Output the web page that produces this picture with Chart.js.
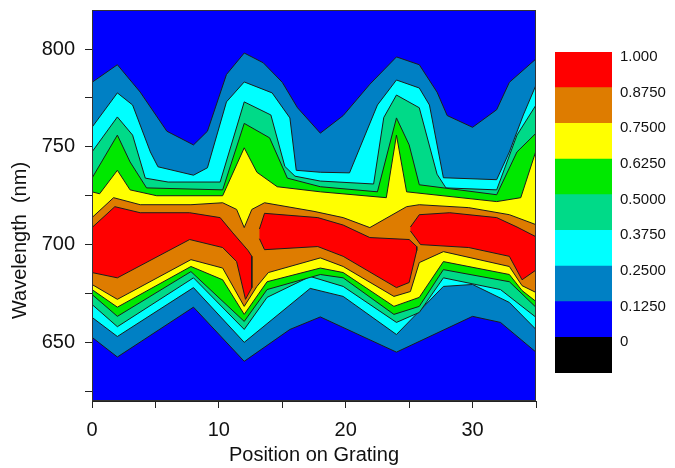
<!DOCTYPE html>
<html>
<head>
<meta charset="utf-8">
<script src="https://cdn.jsdelivr.net/npm/chart.js@4.4.1/dist/chart.umd.min.js"></script>
<style>
  html, body { margin: 0; padding: 0; background: #fff; }
  #wrap { position: relative; width: 675px; height: 468px; }
  #main { position: absolute; left: 0; top: 0; }
  #bar { position: absolute; left: 545px; top: 0; }
</style>
</head>
<body>
<div id="wrap">
  <canvas id="main" width="675" height="468"></canvas>
  <canvas id="bar" width="130" height="468"></canvas>
</div>
<script>
const xTicks = [0, 5, 10, 15, 20, 25, 30, 35];
const yTicks = [625, 650, 675, 700, 725, 750, 775, 800];
const xTitle = 'Position on Grating';
const yTitle = 'Wavelength  (nm)';

const levelLabels = ['0', '0.1250', '0.2500', '0.3750', '0.5000', '0.6250', '0.7500', '0.8750', '1.000'];
const levelColors = ['#000000', '#0000ff', '#0080c4', '#00ffff', '#00da88', '#00e800', '#ffff00', '#de7c00', '#ff0000'];

// contour boundaries, [position, wavelength]; top edge and bottom edge of each level
// level >= 0.125
const sbTop = [[0,783],[2,792],[3.8,778],[5.9,758],[8,751],[9.1,758],[10.6,787],[12,798],[13.5,793],[15,783],[16.2,770],[18,757],[19.8,766],[21.9,782],[24,796],[25.8,792],[27.2,778],[28,766],[30,760],[31.9,769],[32.9,783],[35,795]];
const sbBottom = [[0,652.6],[2,642.5],[8,668],[12,640.3],[15.6,656.6],[18,663],[24,645],[30,663.3],[32.2,660.2],[35,645]];
// level >= 0.25
const cyTop = [[0,760],[2,777.6],[3.2,771.4],[4.6,747.4],[5.2,739.8],[8,735.5],[9.1,739.3],[10.6,773],[12,783.2],[14.2,777.6],[15.6,764.8],[16.1,738],[18,737],[20.3,736.7],[22.5,771.4],[24,784.2],[25.8,780.1],[26.6,771.4],[27.7,734.2],[31.9,733.2],[32.9,747.4],[34,766.3],[35,781.6]];
const cyBottom = [[0,662.8],[2,653],[8,678],[12,650],[17.2,677.6],[19.8,673.5],[24,654],[27.7,678.6],[30,679.6],[32.9,670.4],[35,656.6]];
// level >= 0.375
const mgTop = [[0,747.4],[2,765.3],[3.2,756],[4.2,734],[6,732],[10.1,732],[12,773],[14.1,766.3],[15.2,740],[16,735],[18,732.5],[22.2,731],[23,765],[24,776.5],[25.8,770],[27.2,736],[27.9,729],[31.9,728],[33.5,756],[35,771.4]];
const mgBottom = [[0,669.4],[2,658],[8,683],[12,656.6],[13.8,673],[17.2,683.7],[19.8,678.6],[24,660.2],[25.8,665.3],[27.7,683],[32.2,677],[35,662.8]];
// level >= 0.5
const grTop = [[0,734],[2,756],[3,742.3],[4.3,729],[10.3,728],[12,762],[14,754.6],[15.4,734],[18,729.6],[22.5,727],[24,764.8],[25,751],[25.8,730.6],[31.9,725.5],[33.5,747.4],[35,757]];
const grBottom = [[0,674.5],[2,663.3],[7.8,686.2],[12,660.7],[13.8,677],[18,684.7],[19.8,683],[23.8,664.3],[25.8,668.4],[27.7,687.2],[32.9,681],[35,667.9]];
// level >= 0.625
const yeTop = [[0,727],[0.6,726],[2,738],[3,728],[5.1,725],[10.3,725],[12,749.5],[13,737],[14.6,729.6],[18,727],[23.2,724],[24,756],[24.8,727],[31.9,722],[33.8,724],[35,748]];
const yeBottom = [[0,677],[2,668],[7.8,688.8],[10.3,682],[12,664.3],[13.8,681],[18,688],[19.8,685.7],[23.8,668.4],[25.8,673],[27.7,691.3],[32.9,684.7],[33.9,676.5],[35,670.9]];
// level >= 0.75
const orTop = [[0,713.8],[1.7,724],[3.8,720.4],[7.8,720.4],[10.3,721.4],[11.4,718],[12,708.7],[12.6,718],[13.6,721.4],[17.5,717],[19.8,713.8],[21.9,708.7],[24.8,719.4],[25.8,720.4],[29.7,718.9],[32.9,715.3],[35,710.2]];
const orBottom = [[0,679.6],[2,672],[7.8,692.3],[10.3,688],[12,668.4],[13,678.6],[13.9,685.7],[18,693.2],[19.8,688.8],[23.8,673.5],[25.1,676],[25.8,690.8],[27.7,696.4],[32.9,688.8],[33.9,679],[35,675.5]];
// level >= 0.875, three islands
const rdTop1 = [[0,708.7],[1.8,719.4],[3.8,716.3],[7.7,716.3],[10.1,713.8],[11.1,706],[12.3,697],[12.6,694]];
const rdBottom1 = [[0,685.7],[2,683],[7.7,702.6],[10.3,698.5],[11.4,691.3],[12.1,672],[12.6,678]];
const rdTop2 = [[13.2,708],[13.6,716],[17.8,713.8],[19.8,710],[21.9,703.6],[25,702.6],[25.6,699]];
const rdBottom2 = [[13.2,703],[13.6,697.4],[17.8,699],[19.8,694],[24,678],[25,680.6],[25.6,697]];
const rdTop3 = [[25.1,709],[25.8,715.3],[28.2,716.3],[31.9,713.8],[33.5,709],[35,704]];
const rdBottom3 = [[25.1,707],[25.9,700],[29.7,698.5],[32.9,694],[33.9,682],[35,687]];

const bands = [
  {level: 1, top: sbTop, bottom: sbBottom},
  {level: 2, top: cyTop, bottom: cyBottom},
  {level: 3, top: mgTop, bottom: mgBottom},
  {level: 4, top: grTop, bottom: grBottom},
  {level: 5, top: yeTop, bottom: yeBottom},
  {level: 6, top: orTop, bottom: orBottom},
  {level: 7, top: rdTop1, bottom: rdBottom1},
  {level: 7, top: rdTop2, bottom: rdBottom2},
  {level: 7, top: rdTop3, bottom: rdBottom3},
];

const family = '"Liberation Sans", Arial, sans-serif';
Chart.defaults.font.family = family;
Chart.defaults.color = '#111';

function toShape(top, bottom) {
  return top.concat(bottom.slice().reverse()).map(p => ({x: p[0], y: p[1]}));
}

// first dataset is drawn last, so highest level goes first
const datasets = bands.slice().reverse().map(b => ({
  data: toShape(b.top, b.bottom),
  backgroundColor: levelColors[b.level + 1],
  borderColor: '#1c1c1c',
  borderWidth: 1,
  pointRadius: 0,
  tension: 0,
  fill: 'shape',
}));

const frame = {
  id: 'frame',
  beforeDraw(chart) {
    const {ctx, chartArea: a} = chart;
    ctx.save();
    ctx.fillStyle = levelColors[1];
    ctx.fillRect(a.left, a.top, a.width, a.height);
    ctx.restore();
  },
  afterDraw(chart) {
    const {ctx, chartArea: a} = chart;
    ctx.save();
    ctx.strokeStyle = '#333';
    ctx.lineWidth = 1;
    ctx.strokeRect(a.left + 0.5, a.top + 0.5, a.width - 1, a.height - 1);
    ctx.translate(20, (a.top + a.bottom) / 2 + 35);
    ctx.rotate(-Math.PI / 2);
    ctx.font = '20px ' + family;
    ctx.fillStyle = '#111';
    ctx.textAlign = 'center';
    ctx.textBaseline = 'middle';
    ctx.fillText(yTitle, 0, 0);
    ctx.restore();
  }
};

new Chart(document.getElementById('main'), {
  type: 'line',
  data: { datasets: datasets },
  options: {
    responsive: false,
    animation: false,
    layout: { padding: { left: 0, top: 10, right: 139, bottom: 0 } },
    plugins: { legend: { display: false }, tooltip: { enabled: false } },
    scales: {
      x: {
        type: 'linear',
        min: 0,
        max: 35,
        afterBuildTicks: s => { s.ticks = xTicks.map(v => ({value: v})); },
        afterFit: s => { s.height = 67; s.paddingLeft = 0; s.paddingRight = 0; },
        grid: { drawOnChartArea: false, drawTicks: true, tickLength: 7, tickColor: '#222' },
        border: { display: true, color: '#222' },
        ticks: {
          autoSkip: false,
          maxRotation: 0,
          padding: 10,
          font: { size: 20 },
          callback: v => (v % 10 === 0 ? v : ''),
        },
        title: { display: true, text: xTitle, font: { size: 20 }, padding: { top: 0, bottom: 1 } },
      },
      y: {
        type: 'linear',
        min: 620,
        max: 820,
        afterBuildTicks: s => { s.ticks = yTicks.map(v => ({value: v})); },
        afterFit: s => { s.width = 92; s.paddingTop = 0; s.paddingBottom = 0; },
        grid: { drawOnChartArea: false, drawTicks: true, tickLength: 7, tickColor: '#222' },
        border: { display: true, color: '#222' },
        ticks: {
          autoSkip: false,
          padding: 10,
          font: { size: 20 },
          callback: v => (v % 50 === 0 ? v : ''),
        },
      },
    },
  },
  plugins: [frame],
});

new Chart(document.getElementById('bar'), {
  type: 'bar',
  data: {
    labels: [''],
    datasets: levelColors.map((c, i) => ({
      label: levelLabels[i],
      data: [1],
      backgroundColor: c,
      borderWidth: 0,
      barPercentage: 1,
      categoryPercentage: 1,
    })),
  },
  options: {
    responsive: false,
    animation: false,
    layout: { padding: { left: 10, top: 52, right: 0, bottom: 95 } },
    plugins: { legend: { display: false }, tooltip: { enabled: false } },
    scales: {
      x: { display: false, stacked: true },
      y: {
        stacked: true,
        position: 'right',
        min: 0,
        max: 9,
        afterBuildTicks: s => { s.ticks = levelLabels.map((_, i) => ({value: i + 1})); },
        afterFit: s => { s.width = 63; },
        grid: { display: false, drawTicks: false },
        border: { display: false },
        ticks: {
          padding: 8,
          labelOffset: 5,
          font: { size: 15 },
          callback: (v, i) => levelLabels[i],
        },
      },
    },
  },
});
</script>
</body>
</html>
